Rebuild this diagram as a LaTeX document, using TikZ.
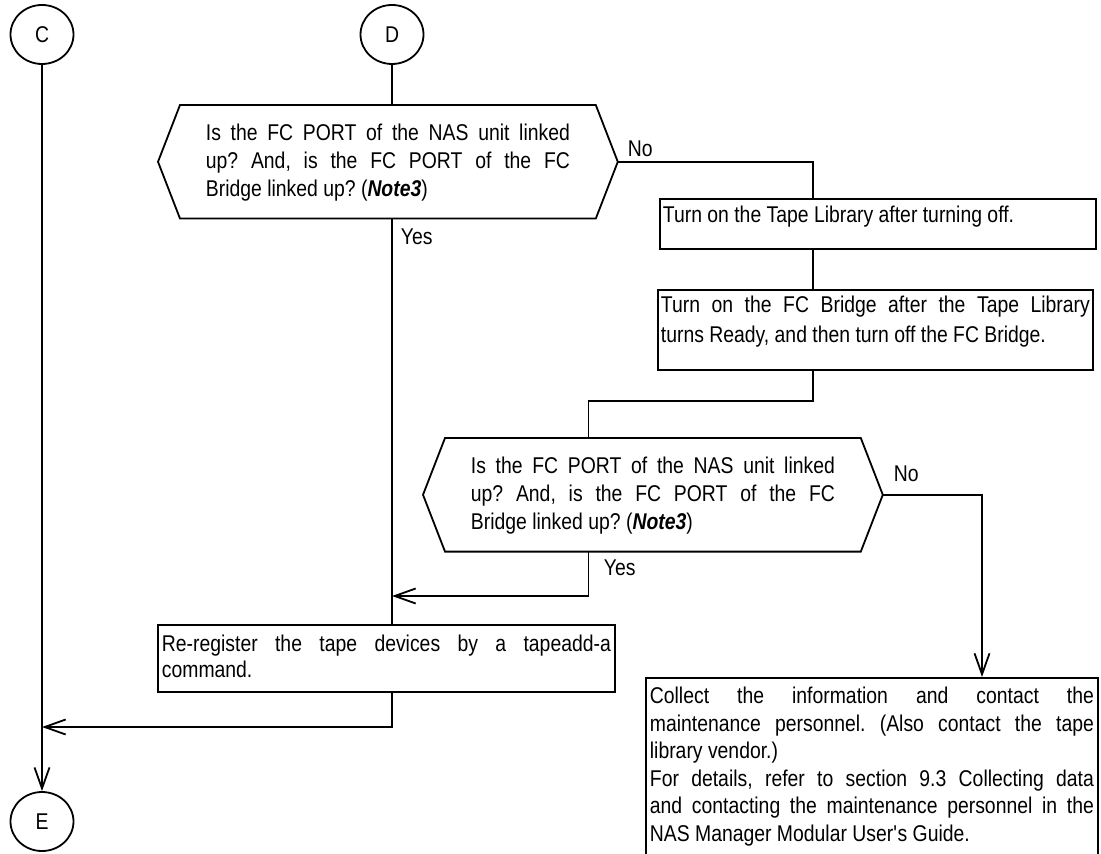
\documentclass[tikz,border=0pt]{standalone}
\usepackage{fontspec}
\setmainfont{Liberation Sans}[FakeStretch=0.85]
\usetikzlibrary{arrows.meta,shapes.geometric}
\hyphenpenalty=10000
\exhyphenpenalty=10000
\tolerance=10000
\frenchspacing

\tikzset{
  conn/.style={shape=ellipse,draw,minimum width=31.5pt,minimum height=29.5pt,inner sep=0pt},
  boxnode/.style={draw,anchor=north west,align=justify,inner ysep=0pt,inner xsep=2pt},
  check/.style={anchor=north west,align=justify,inner ysep=0pt,inner xsep=12.5pt,
    text width=182pt,text height=17.4pt,text depth=38.5pt},
  lbl/.style={anchor=base west,inner sep=0pt},
  flow/.style={-{Straight Barb[length=10.5pt,width=7.5pt]}},
}

\begin{document}
\begin{tikzpicture}[x=0.5pt,y=-0.5pt,line width=0.9pt,
  font=\fontsize{11.4pt}{14pt}\selectfont]
  \useasboundingbox (0,0) rectangle (1101,854);
  % connectors C, D, E
  \node[conn] (C) at (42,34.5) {C};
  \node[conn] (D) at (392,34.5) {D};
  \node[conn] (E) at (42,821.5) {E};
  % columns of the vertical wires
  \coordinate (colM) at (588.5,0);
  \coordinate (colR) at (813,0);
  \coordinate (colX) at (982,0);
  % first check (hexagon)
  \node[check] (checkA) at (180,105) {Is the FC PORT of the NAS unit linked\linebreak
    up? And, is the FC PORT of the FC\linebreak
    Bridge linked up? (\textbf{\textit{Note3}})};
  \coordinate (tipA) at ([xshift=11pt]checkA.east);
  \draw (checkA.north west) -- (checkA.north east) -- (tipA) -- (checkA.south east)
    -- (checkA.south west) -- ([xshift=-11pt]checkA.west) -- cycle;
  % power cycle boxes
  \node[boxnode,text width=215pt,inner xsep=1.5pt,text height=12pt,text depth=13pt]
    (turnoff) at (659,198) {Turn on the Tape Library after turning off.};
  \node[boxnode,text width=214.5pt,inner xsep=1.5pt,text height=11.5pt,text depth=28.5pt,
    font=\fontsize{11.4pt}{15pt}\selectfont]
    (bridge) at (657,289) {Turn on the FC Bridge after the Tape Library\linebreak
    turns Ready, and then turn off the FC Bridge.};
  % second check (hexagon)
  \node[check] (checkB) at (445,438) {Is the FC PORT of the NAS unit linked\linebreak
    up? And, is the FC PORT of the FC\linebreak
    Bridge linked up? (\textbf{\textit{Note3}})};
  \coordinate (tipB) at ([xshift=11pt]checkB.east);
  \draw (checkB.north west) -- (checkB.north east) -- (tipB) -- (checkB.south east)
    -- (checkB.south west) -- ([xshift=-11pt]checkB.west) -- cycle;
  % result boxes
  \node[boxnode,text width=224.5pt,text height=13.5pt,text depth=20pt,
    font=\fontsize{11.4pt}{13pt}\selectfont]
    (rereg) at (157,624) {Re-register the tape devices by a tapeadd-a\linebreak
    command.};
  \node[boxnode,text width=222pt,text height=13pt,text depth=100pt,
    font=\fontsize{11.4pt}{13.75pt}\selectfont]
    (collect) at (645,677) {Collect the information and contact the\linebreak
    maintenance personnel. (Also contact the tape\linebreak
    library vendor.)\\
    For details, refer to section 9.3 Collecting data\linebreak
    and contacting the maintenance personnel in the\linebreak
    NAS Manager Modular User\textquotesingle s Guide.};
  % join points on the wires
  \coordinate (joinA) at (D |- 0,596);
  \coordinate (joinC) at (C |- 0,727);
  % wires
  \draw[flow] (C) -- (E);
  \draw (D) -- (D |- checkA.north);
  \draw (D |- checkA.south) -- (D |- rereg.north);
  \draw (tipA) -| (colR |- turnoff.north);
  \draw (colR |- turnoff.south) -- (colR |- bridge.north);
  \draw (colR |- bridge.south) -- ++(0,30) -| (colM |- checkB.north);
  \draw[flow] (colM |- checkB.south) |- (joinA);
  \draw[flow] (tipB) -| (colX |- collect.north);
  \draw[flow] (D |- rereg.south) |- (joinC);
  % branch labels
  \node[lbl] (noA) at (627,157) {No};
  \node[lbl] (yesA) at (400,245) {Yes};
  \node[lbl] (noB) at (893,482) {No};
  \node[lbl] (yesB) at (603,575) {Yes};
\end{tikzpicture}
\end{document}
